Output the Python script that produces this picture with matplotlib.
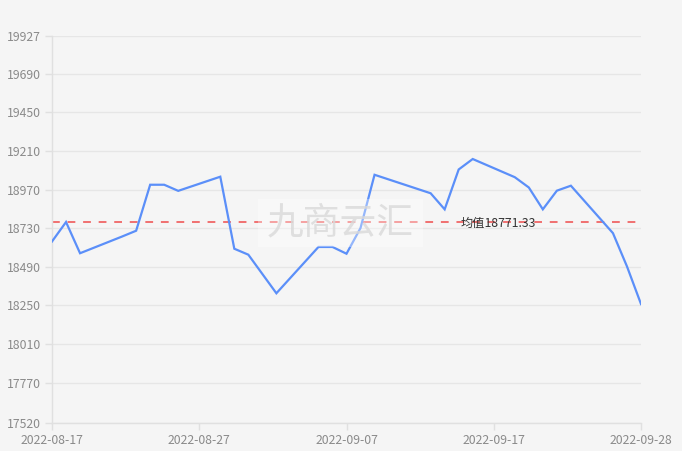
import matplotlib
matplotlib.use("Agg")
import matplotlib.pyplot as plt
import matplotlib.dates as mdates
import matplotlib.transforms as mtransforms
import numpy as np
import pandas as pd
from matplotlib.patches import Rectangle

plt.rcParams['font.family'] = ['Noto Sans CJK SC', 'DejaVu Sans']

dates = ["2022-08-17", "2022-08-18", "2022-08-19", "2022-08-22", "2022-08-23",
         "2022-08-24", "2022-08-25", "2022-08-26", "2022-08-29", "2022-08-30",
         "2022-08-31", "2022-09-02", "2022-09-05", "2022-09-06", "2022-09-07",
         "2022-09-08", "2022-09-09", "2022-09-13", "2022-09-14", "2022-09-15",
         "2022-09-16", "2022-09-19", "2022-09-20", "2022-09-21", "2022-09-22",
         "2022-09-23", "2022-09-26", "2022-09-27", "2022-09-28"]
values = [18647, 18768, 18574, 18678, 18714,
          19000, 19000, 18962, 19050, 18602,
          18565, 18325, 18613, 18613, 18571,
          18731, 19062, 18947, 18847, 19095,
          19160, 19047, 18983, 18847, 18963,
          18994, 18699, 18492, 18258]
mean_value = 18771.33
mean_label = "均值18771.33"
y_ticks = [17520, 17770, 18010, 18250, 18490, 18730, 18970, 19210, 19450, 19690, 19927]
x_tick_labels = ["2022-08-17", "2022-08-27", "2022-09-07", "2022-09-17", "2022-09-28"]
watermark = "九商云汇"

bg = "#f5f5f5"
fig = plt.figure(figsize=(6.82, 4.51), dpi=100, facecolor=bg)
ax = fig.add_axes([52/682, 1-422.7/451, 589/682, 387/451])
ax.set_facecolor(bg)

x = mdates.date2num(pd.to_datetime(dates))
ax.plot(x, values, color="#5b8ff9", lw=1.6, zorder=3, solid_joinstyle='miter')
ax.axhline(mean_value, color="#f07070", lw=1.4, ls=(0, (4, 4)), zorder=2)

ax.set_xlim(x[0], x[-1])
ax.set_ylim(y_ticks[0], y_ticks[-1])
ax.set_yticks(y_ticks)
ax.set_yticklabels([str(v) for v in y_ticks])
ax.set_xticks(np.linspace(x[0], x[-1], len(x_tick_labels)))
ax.set_xticklabels(x_tick_labels)

ax.grid(axis='y', color="#e6e6e6", lw=1, zorder=0)
for s in ['top', 'right']:
    ax.spines[s].set_visible(False)
for s in ['left', 'bottom']:
    ax.spines[s].set_color("#e0e0e0")
    ax.spines[s].set_linewidth(1)
ax.tick_params(axis='both', colors="#e0e0e0", labelcolor="#8a8a8a", labelsize=8.8, length=5, width=1)
ax.tick_params(axis='y', pad=3)
ax.tick_params(axis='x', pad=3)

offset = mtransforms.ScaledTranslation(0, -2/100, fig.dpi_scale_trans)
ax.text((461-52)/589, mean_value, mean_label,
        transform=ax.get_yaxis_transform() + offset,
        fontsize=8.8, color="#333333", va='center', ha='left', zorder=4)

# watermark
ax.add_patch(Rectangle((0.35, 0.454), 0.28, 0.124, transform=ax.transAxes,
                       facecolor="white", alpha=0.35, edgecolor='none', zorder=5))
ax.text(0.49, 0.516, watermark, transform=ax.transAxes, fontsize=26.5,
        color="#d9d9d9", alpha=0.8, ha='center', va='center', zorder=6)

fig.savefig("out.png", dpi=100, facecolor=bg)
